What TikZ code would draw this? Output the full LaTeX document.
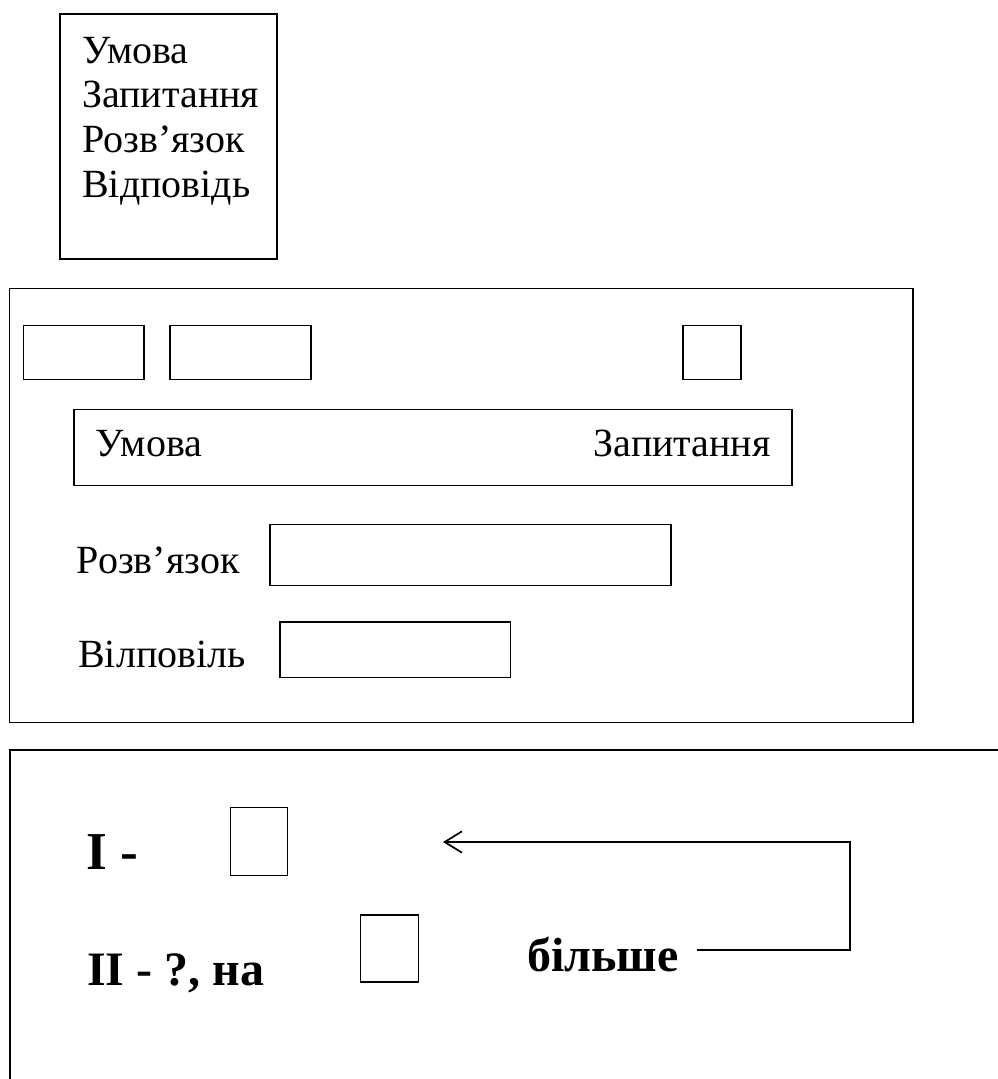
\documentclass[tikz,border=0pt]{standalone}
\usepackage{fontspec}
\setmainfont{Liberation Serif}
\usetikzlibrary{arrows.meta,fit}
\tikzset{
  frame/.style={draw, line width=0.9pt, inner sep=0pt},
  label/.style={inner sep=0pt, font=\fontsize{30}{34}\selectfont},
  boldlabel/.style={inner sep=0pt, font=\fontsize{36}{40}\selectfont\bfseries},
  biglabel/.style={inner sep=0pt, font=\fontsize{40}{44}\selectfont\bfseries},
  link/.style={line width=1.1pt, -{Straight Barb[length=13pt,width=16pt,line width=1.3pt]}}
}
\begin{document}
\begin{tikzpicture}[x=0.75pt,y=-0.75pt]
\useasboundingbox (0,0) rectangle (998,1079);
\clip (0,0) rectangle (998,1079);

% plan of a task: list of its parts
\node[frame, fit={(60,14) (277,259)}] (plan) {};
\node[label, anchor=base west] (p1) at (82,63)  {Умова};
\node[label, anchor=base west] (p2) at (82,107) {Запитання};
\node[label, anchor=base west] (p3) at (82,152) {Розв’язок};
\node[label, anchor=base west] (p4) at (82,197) {Відповідь};

% card of a task
\node[frame, fit={(9.6,288.3) (913,722.7)}] (card) {};
\node[frame, fit={(23.6,325.7) (144,379.3)}] (s1) {};
\node[frame, fit={(170,325.7) (311,379.3)}] (s2) {};
\node[frame, fit={(683,325.7) (741,379.3)}] (s3) {};
\node[frame, fit={(74,409.3) (792,485.7)}] (cond) {};
\node[label, anchor=base west] (umova) at (95.6,456) {Умова};
\node[label, anchor=base east] (zap) at (771,456) {Запитання};
\node[label, anchor=base west] (rozv) at (76.5,573) {Розв’язок};
\node[frame, fit={(270,524.3) (671,585.3)}] (rozvbox) {};
\node[label, anchor=base west] (vidp) at (78,667) {Вілповіль};
\node[frame, fit={(280,622) (510.5,677.7)}] (vidpbox) {};

% short record of the task
\node[frame, fit={(10,750) (1040,1120)}] (record) {};
\node[biglabel, anchor=base west] (first) at (86,869) {I -};
\node[frame, fit={(230.4,807.7) (287.7,875.7)}] (firstbox) {};
\node[boldlabel, anchor=base west] (second) at (87,985) {II - ?, на};
\node[frame, fit={(360.3,915) (418.2,982)}] (secondbox) {};
\node[boldlabel, anchor=base west] (more) at (527,971) {більше};

\coordinate (start) at (697,950);
\coordinate (turn) at (850,950);
\coordinate (tip) at (443,842);
\draw[link] (start) -- (turn) |- (tip);
\end{tikzpicture}
\end{document}
